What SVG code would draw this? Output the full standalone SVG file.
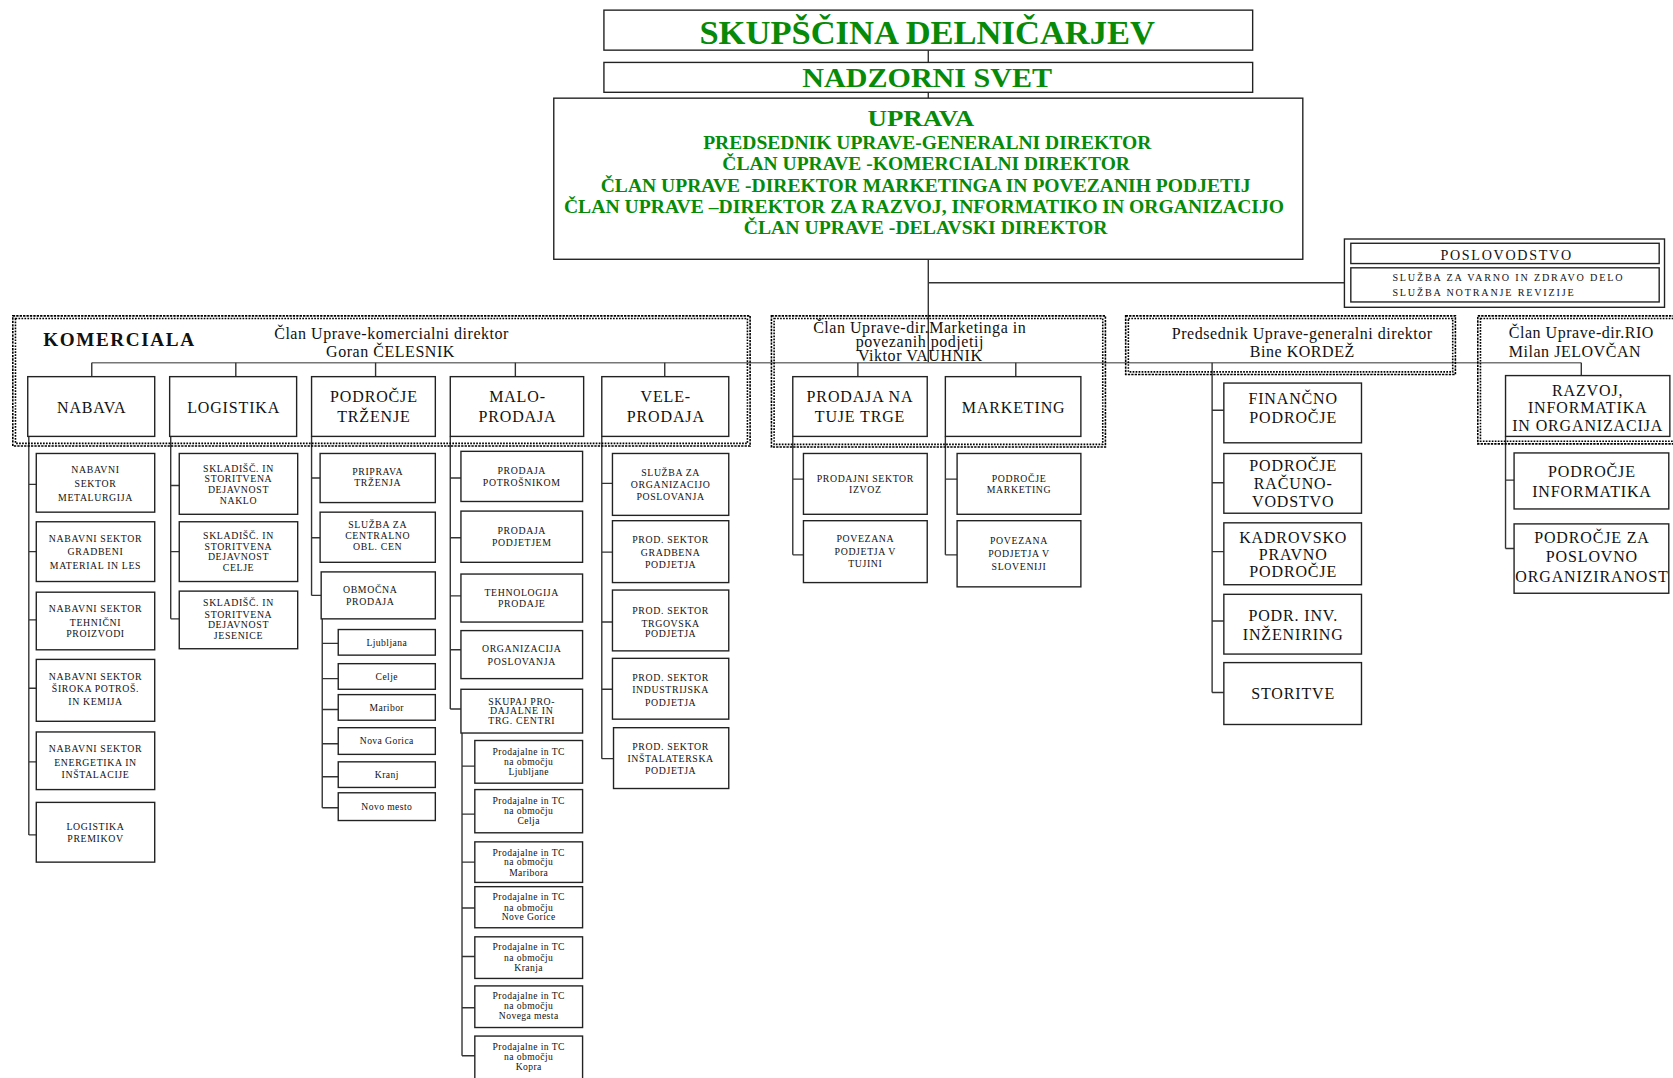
<svg xmlns="http://www.w3.org/2000/svg" width="1673" height="1078" viewBox="0 0 1673 1078">
<style>
.bx{fill:#fff;stroke:#222;stroke-width:1.3}
.bo{fill:none;stroke:#222;stroke-width:1.3}
.t{font-family:"Liberation Serif","Times New Roman",serif;text-anchor:middle;fill:#111}
.l{text-anchor:start}
.s9{font-size:9.2px;letter-spacing:0.6px}
.s8{font-size:9px;letter-spacing:0.4px}
.m{font-size:15px;letter-spacing:0.8px}
.h{font-size:15px;letter-spacing:0.5px}
.g{fill:#078a07;font-weight:bold}
.cn{fill:none;stroke:#333;stroke-width:1.3}
.cm{stroke:#777}
.d1{fill:none;stroke:#000;stroke-width:1.5;stroke-dasharray:2.2 1}
.d2{fill:none;stroke:#000;stroke-width:1.5;stroke-dasharray:1.6 1.2}
</style>
<rect width="1673" height="1078" fill="#fff"/>
<g transform="scale(1.067)">
<g id="connectors" class="cn">
<path d="M870,47V58M870,86.5V92M870,243V340M870,265H1260"/>
<path class="cm" d="M86,340H1482"/>
<path d="M86,340V353M221,340V353M352,340V353M483,340V353M623,340V353M804,340V353M952,340V353M1482,340V352"/>
<path d="M1136,340V649M1136,384.5H1147M1136,452.5H1147M1136,517H1147M1136,582H1147M1136,649H1147"/>
<path d="M27,409V782.5M27,454H34M27,517H34M27,581H34M27,645H34M27,714H34M27,782.5H34"/>
<path d="M160,409V580M160,455H168M160,517H168M160,580H168"/>
<path d="M292,409V558M292,448H300M292,504H300M292,558H301"/>
<path d="M302,580V757M302,603H317M302,636H317M302,665H317M302,697H317M302,728H317M302,757H317"/>
<path d="M422,409V664.5M422,448H432M422,504H432M422,558.5H432M422,609H432M422,664.5H432"/>
<path d="M433,687V989.5M433,718H445M433,763H445M433,808H445M433,851H445M433,896.5H445M433,944.5H445M433,989.5H445"/>
<path d="M564,409V711M564,453H574M564,517.5H574M564,583H574M564,646H574M564,711H575"/>
<path d="M743,409V520M743,449H753M743,520H753"/>
<path d="M886,409V520M886,449H897M886,520H897"/>
<path d="M1411,409V514M1411,450H1419M1411,514H1419"/>
</g>

<g id="skupscina">
<rect class="bx" x="566" y="9.5" width="608" height="37.5"/>
<text class="t g" x="869" y="41.5" font-size="31" textLength="427" lengthAdjust="spacingAndGlyphs">SKUPŠČINA DELNIČARJEV</text>
</g>
<g id="nadzorni-svet">
<rect class="bx" x="566" y="58.5" width="608" height="28"/>
<text class="t g" x="869" y="82" font-size="26" textLength="234" lengthAdjust="spacingAndGlyphs">NADZORNI SVET</text>
</g>
<g id="uprava">
<rect class="bx" x="519" y="92" width="702" height="151"/>
<text class="t g" x="863" y="118" font-size="22.5" textLength="100" lengthAdjust="spacingAndGlyphs">UPRAVA</text>
<text class="t g" x="869" y="139.6" font-size="17" textLength="420" lengthAdjust="spacingAndGlyphs">PREDSEDNIK UPRAVE-GENERALNI DIREKTOR</text>
<text class="t g" x="868" y="159" font-size="17" textLength="382" lengthAdjust="spacingAndGlyphs">ČLAN UPRAVE -KOMERCIALNI DIREKTOR</text>
<text class="t g" x="867.5" y="179.6" font-size="17" textLength="609" lengthAdjust="spacingAndGlyphs">ČLAN UPRAVE -DIREKTOR MARKETINGA IN POVEZANIH PODJETIJ</text>
<text class="t g" x="866" y="199.5" font-size="17" textLength="675" lengthAdjust="spacingAndGlyphs">ČLAN UPRAVE –DIREKTOR ZA RAZVOJ, INFORMATIKO IN ORGANIZACIJO</text>
<text class="t g" x="867.5" y="219" font-size="17" textLength="341" lengthAdjust="spacingAndGlyphs">ČLAN UPRAVE -DELAVSKI DIREKTOR</text>
</g>
<g id="poslovodstvo">
<rect class="bx" x="1260" y="224" width="300" height="64"/>
<rect class="bo" x="1266" y="228" width="289" height="19"/>
<rect class="bo" x="1266" y="251" width="289" height="32"/>
<text class="t" x="1412" y="243.5" font-size="13.2" letter-spacing="1.6">POSLOVODSTVO</text>
<text class="t l" x="1305" y="263.5" font-size="9.5" letter-spacing="1.7">SLUŽBA ZA VARNO IN ZDRAVO DELO</text>
<text class="t l" x="1305" y="277" font-size="9.5" letter-spacing="1.7">SLUŽBA NOTRANJE REVIZIJE</text>
</g>

<g id="grp-komerciala">
<rect class="d1" x="12" y="296" width="691" height="122"/>
<rect class="d2" x="14.5" y="298.5" width="686" height="117"/>
<text class="t l" x="40.5" y="324" font-size="18" font-weight="bold" letter-spacing="1.5">KOMERCIALA</text>
<text class="t h" x="367" y="317.5">Član Uprave-komercialni direktor</text>
<text class="t h" x="366" y="335">Goran ČELESNIK</text>
</g>
<g id="grp-marketing">
<rect class="d1" x="723" y="296" width="313" height="123"/>
<rect class="d2" x="725.5" y="298.5" width="308" height="118"/>
<text class="t h" x="862" y="312.5">Član Uprave-dir.Marketinga in</text>
<text class="t h" x="862" y="325">povezanih podjetij</text>
<text class="t h" x="862.5" y="338">Viktor VAUHNIK</text>
</g>
<g id="grp-predsednik">
<rect class="d1" x="1055" y="296" width="309" height="55"/>
<rect class="d2" x="1057.5" y="298.5" width="304" height="50"/>
<text class="t h" x="1220.5" y="317.5">Predsednik Uprave-generalni direktor</text>
<text class="t h" x="1220.5" y="335">Bine KORDEŽ</text>
</g>
<g id="grp-rio">
<rect class="d1" x="1385" y="296" width="200" height="120"/>
<rect class="d2" x="1387.5" y="298.5" width="195" height="115"/>
<text class="t h l" x="1414" y="317">Član Uprave-dir.RIO</text>
<text class="t h l" x="1414" y="335">Milan JELOVČAN</text>
</g>

<g id="nabava"><rect class="bx" x="26" y="353" width="119" height="56"/><text class="t m" x="86" y="387">NABAVA</text></g>
<g id="logistika"><rect class="bx" x="159" y="353" width="119" height="56"/><text class="t m" x="219" y="387">LOGISTIKA</text></g>
<g id="podrocje-trzenje"><rect class="bx" x="292" y="353" width="116" height="56"/><text class="t m" x="350.5" y="377">PODROČJE</text><text class="t m" x="350.5" y="395.5">TRŽENJE</text></g>
<g id="maloprodaja"><rect class="bx" x="422" y="353" width="125" height="56"/><text class="t m" x="485" y="377">MALO-</text><text class="t m" x="485" y="395.5">PRODAJA</text></g>
<g id="veleprodaja"><rect class="bx" x="564" y="353" width="119" height="56"/><text class="t m" x="624" y="377">VELE-</text><text class="t m" x="624" y="395.5">PRODAJA</text></g>
<g id="prodaja-tuje"><rect class="bx" x="743" y="353" width="126" height="56"/><text class="t m" x="806" y="377">PRODAJA NA</text><text class="t m" x="806" y="395.5">TUJE TRGE</text></g>
<g id="marketing"><rect class="bx" x="886" y="353" width="127" height="56"/><text class="t m" x="950" y="387">MARKETING</text></g>
<g id="razvoj"><rect class="bx" x="1411" y="352" width="154" height="57"/><text class="t m" x="1488" y="371.5" letter-spacing="1">RAZVOJ,</text><text class="t m" x="1488" y="387" letter-spacing="1">INFORMATIKA</text><text class="t m" x="1488" y="404" letter-spacing="1">IN ORGANIZACIJA</text></g>

<g id="financno"><rect class="bx" x="1147" y="359" width="129" height="56"/><text class="t m" x="1212" y="379" letter-spacing="0.5">FINANČNO</text><text class="t m" x="1212" y="396" letter-spacing="0.5">PODROČJE</text></g>
<g id="racunovodstvo"><rect class="bx" x="1147" y="425" width="129" height="56"/><text class="t m" x="1212" y="441" letter-spacing="0.5">PODROČJE</text><text class="t m" x="1212" y="458" letter-spacing="0.5">RAČUNO-</text><text class="t m" x="1212" y="475" letter-spacing="0.5">VODSTVO</text></g>
<g id="kadrovsko"><rect class="bx" x="1147" y="490" width="129" height="58"/><text class="t m" x="1212" y="509" letter-spacing="0.5">KADROVSKO</text><text class="t m" x="1212" y="525" letter-spacing="0.5">PRAVNO</text><text class="t m" x="1212" y="541" letter-spacing="0.5">PODROČJE</text></g>
<g id="inzeniring"><rect class="bx" x="1147" y="557" width="129" height="56"/><text class="t m" x="1212" y="582" letter-spacing="0.5">PODR. INV.</text><text class="t m" x="1212" y="600" letter-spacing="0.5">INŽENIRING</text></g>
<g id="storitve"><rect class="bx" x="1147" y="621" width="129" height="58"/><text class="t m" x="1212" y="655" letter-spacing="0.5">STORITVE</text></g>

<g id="podrocje-informatika"><rect class="bx" x="1419" y="424.5" width="145" height="52.5"/><text class="t m" x="1492" y="447" letter-spacing="0.8">PODROČJE</text><text class="t m" x="1492" y="466" letter-spacing="0.8">INFORMATIKA</text></g>
<g id="podrocje-organiziranost"><rect class="bx" x="1419" y="491" width="145" height="65"/><text class="t m" x="1492" y="509" letter-spacing="0.6">PODROČJE ZA</text><text class="t m" x="1492" y="527" letter-spacing="0.6">POSLOVNO</text><text class="t m" x="1492" y="545" letter-spacing="0.6">ORGANIZIRANOST</text></g>

<g id="nab-metalurgija"><rect class="bx" x="34" y="425" width="111" height="55"/><text class="t s9" x="89.5" y="443.3">NABAVNI</text><text class="t s9" x="89.5" y="456.3">SEKTOR</text><text class="t s9" x="89.5" y="469.3">METALURGIJA</text></g>
<g id="nab-gradbeni"><rect class="bx" x="34" y="489" width="111" height="56"/><text class="t s9" x="89.5" y="508.3">NABAVNI  SEKTOR</text><text class="t s9" x="89.5" y="520.3">GRADBENI</text><text class="t s9" x="89.5" y="533.3">MATERIAL  IN LES</text></g>
<g id="nab-tehnicni"><rect class="bx" x="34" y="555" width="111" height="54"/><text class="t s9" x="89.5" y="573.3">NABAVNI  SEKTOR</text><text class="t s9" x="89.5" y="586.3">TEHNIČNI</text><text class="t s9" x="89.5" y="597.3">PROIZVODI</text></g>
<g id="nab-siroka"><rect class="bx" x="34" y="618" width="111" height="58"/><text class="t s9" x="89.5" y="637">NABAVNI  SEKTOR</text><text class="t s9" x="89.5" y="648.5">ŠIROKA  POTROŠ.</text><text class="t s9" x="89.5" y="661">IN KEMIJA</text></g>
<g id="nab-energetika"><rect class="bx" x="34" y="686" width="111" height="54"/><text class="t s9" x="89.5" y="704.5">NABAVNI  SEKTOR</text><text class="t s9" x="89.5" y="717.5">ENERGETIKA  IN</text><text class="t s9" x="89.5" y="729.5">INŠTALACIJE</text></g>
<g id="nab-logistika-premikov"><rect class="bx" x="34" y="752" width="111" height="56"/><text class="t s9" x="89.5" y="777.5">LOGISTIKA</text><text class="t s9" x="89.5" y="789.5">PREMIKOV</text></g>

<g id="log-naklo"><rect class="bx" x="168" y="425" width="111" height="57"/><text class="t s9" x="223.5" y="442">SKLADIŠČ. IN</text><text class="t s9" x="223.5" y="452">STORITVENA</text><text class="t s9" x="223.5" y="462">DEJAVNOST</text><text class="t s9" x="223.5" y="472">NAKLO</text></g>
<g id="log-celje"><rect class="bx" x="168" y="489" width="111" height="56"/><text class="t s9" x="223.5" y="505.3">SKLADIŠČ. IN</text><text class="t s9" x="223.5" y="515.3">STORITVENA</text><text class="t s9" x="223.5" y="525.3">DEJAVNOST</text><text class="t s9" x="223.5" y="535.3">CELJE</text></g>
<g id="log-jesenice"><rect class="bx" x="168" y="554" width="111" height="54"/><text class="t s9" x="223.5" y="568.3">SKLADIŠČ. IN</text><text class="t s9" x="223.5" y="579">STORITVENA</text><text class="t s9" x="223.5" y="589">DEJAVNOST</text><text class="t s9" x="223.5" y="599">JESENICE</text></g>

<g id="pt-priprava"><rect class="bx" x="300" y="425" width="108" height="46"/><text class="t s9" x="354" y="444.8">PRIPRAVA</text><text class="t s9" x="354" y="455.3">TRŽENJA</text></g>
<g id="pt-sluzba-cen"><rect class="bx" x="300" y="480" width="108" height="47"/><text class="t s9" x="354" y="495.3">SLUŽBA ZA</text><text class="t s9" x="354" y="505.3">CENTRALNO</text><text class="t s9" x="354" y="515.3">OBL. CEN</text></g>
<g id="pt-obmocna"><rect class="bx" x="301" y="536" width="107" height="44"/><text class="t s9" x="347" y="555.3">OBMOČNA</text><text class="t s9" x="347" y="567.3">PRODAJA</text></g>
<g id="ob-ljubljana"><rect class="bx" x="317" y="590" width="91" height="24"/><text class="t s8" x="362.5" y="605">Ljubljana</text></g>
<g id="ob-celje"><rect class="bx" x="317" y="622" width="91" height="24"/><text class="t s8" x="362.5" y="637">Celje</text></g>
<g id="ob-maribor"><rect class="bx" x="317" y="651" width="91" height="24"/><text class="t s8" x="362.5" y="666">Maribor</text></g>
<g id="ob-nova-gorica"><rect class="bx" x="317" y="682" width="91" height="25"/><text class="t s8" x="362.5" y="697.5">Nova Gorica</text></g>
<g id="ob-kranj"><rect class="bx" x="317" y="714" width="91" height="24"/><text class="t s8" x="362.5" y="729">Kranj</text></g>
<g id="ob-novo-mesto"><rect class="bx" x="317" y="743" width="91" height="26"/><text class="t s8" x="362.5" y="759">Novo mesto</text></g>

<g id="mp-potrosnikom"><rect class="bx" x="432" y="423" width="114" height="47"/><text class="t s9" x="489" y="444.3">PRODAJA</text><text class="t s9" x="489" y="455.3">POTROŠNIKOM</text></g>
<g id="mp-podjetjem"><rect class="bx" x="432" y="479" width="114" height="48"/><text class="t s9" x="489" y="500.8">PRODAJA</text><text class="t s9" x="489" y="511.3">PODJETJEM</text></g>
<g id="mp-tehnologija"><rect class="bx" x="432" y="538" width="114" height="45"/><text class="t s9" x="489" y="558.8">TEHNOLOGIJA</text><text class="t s9" x="489" y="569.3">PRODAJE</text></g>
<g id="mp-organizacija"><rect class="bx" x="432" y="591" width="114" height="45"/><text class="t s9" x="489" y="611.3">ORGANIZACIJA</text><text class="t s9" x="489" y="622.8">POSLOVANJA</text></g>
<g id="mp-skupaj"><rect class="bx" x="432" y="646" width="114" height="41"/><text class="t s9" x="489" y="661">SKUPAJ PRO-</text><text class="t s9" x="489" y="669.5">DAJALNE IN</text><text class="t s9" x="489" y="679">TRG. CENTRI</text></g>

<g id="tc-ljubljane"><rect class="bx" x="445" y="694" width="101" height="40"/><text class="t s8" x="495.5" y="708">Prodajalne in TC</text><text class="t s8" x="495.5" y="717">na območju</text><text class="t s8" x="495.5" y="726.5">Ljubljane</text></g>
<g id="tc-celja"><rect class="bx" x="445" y="740" width="101" height="40.5"/><text class="t s8" x="495.5" y="753.5">Prodajalne in TC</text><text class="t s8" x="495.5" y="763">na območju</text><text class="t s8" x="495.5" y="772">Celja</text></g>
<g id="tc-maribora"><rect class="bx" x="445" y="789" width="101" height="38"/><text class="t s8" x="495.5" y="802">Prodajalne in TC</text><text class="t s8" x="495.5" y="811">na območju</text><text class="t s8" x="495.5" y="821">Maribora</text></g>
<g id="tc-nove-gorice"><rect class="bx" x="445" y="831" width="101" height="38.5"/><text class="t s8" x="495.5" y="843.5">Prodajalne in TC</text><text class="t s8" x="495.5" y="854">na območju</text><text class="t s8" x="495.5" y="862">Nove Gorice</text></g>
<g id="tc-kranja"><rect class="bx" x="445" y="878" width="101" height="39"/><text class="t s8" x="495.5" y="890.5">Prodajalne in TC</text><text class="t s8" x="495.5" y="900.5">na območju</text><text class="t s8" x="495.5" y="910">Kranja</text></g>
<g id="tc-novega-mesta"><rect class="bx" x="445" y="924" width="101" height="39"/><text class="t s8" x="495.5" y="936">Prodajalne in TC</text><text class="t s8" x="495.5" y="945.5">na območju</text><text class="t s8" x="495.5" y="955">Novega mesta</text></g>
<g id="tc-kopra"><rect class="bx" x="445" y="971" width="101" height="40"/><text class="t s8" x="495.5" y="984">Prodajalne in TC</text><text class="t s8" x="495.5" y="993">na območju</text><text class="t s8" x="495.5" y="1003">Kopra</text></g>

<g id="vp-sluzba"><rect class="bx" x="574" y="425" width="109" height="58"/><text class="t s9" x="628.5" y="446.3">SLUŽBA ZA</text><text class="t s9" x="628.5" y="457.3">ORGANIZACIJO</text><text class="t s9" x="628.5" y="468.8">POSLOVANJA</text></g>
<g id="vp-gradbena"><rect class="bx" x="574" y="488" width="109" height="58"/><text class="t s9" x="628.5" y="509.3">PROD. SEKTOR</text><text class="t s9" x="628.5" y="521.3">GRADBENA</text><text class="t s9" x="628.5" y="532.8">PODJETJA</text></g>
<g id="vp-trgovska"><rect class="bx" x="574" y="553" width="109" height="57"/><text class="t s9" x="628.5" y="575.8">PROD. SEKTOR</text><text class="t s9" x="628.5" y="587.3">TRGOVSKA</text><text class="t s9" x="628.5" y="597.3">PODJETJA</text></g>
<g id="vp-industrijska"><rect class="bx" x="574" y="617" width="109" height="57"/><text class="t s9" x="628.5" y="637.8">PROD. SEKTOR</text><text class="t s9" x="628.5" y="649.3">INDUSTRIJSKA</text><text class="t s9" x="628.5" y="661.3">PODJETJA</text></g>
<g id="vp-instalaterska"><rect class="bx" x="575" y="682" width="108" height="57"/><text class="t s9" x="628.5" y="703.3">PROD. SEKTOR</text><text class="t s9" x="628.5" y="714.3">INŠTALATERSKA</text><text class="t s9" x="628.5" y="725.8">PODJETJA</text></g>

<g id="tt-izvoz"><rect class="bx" x="753" y="425" width="116" height="57"/><text class="t s9" x="811" y="451.3" letter-spacing="0.3">PRODAJNI SEKTOR</text><text class="t s9" x="811" y="461.8">IZVOZ</text></g>
<g id="tt-povezana-tujini"><rect class="bx" x="753" y="488" width="116" height="58"/><text class="t s9" x="811" y="508.3">POVEZANA</text><text class="t s9" x="811" y="520.3">PODJETJA V</text><text class="t s9" x="811" y="531.3">TUJINI</text></g>
<g id="mk-podrocje"><rect class="bx" x="897" y="425" width="116" height="57"/><text class="t s9" x="955" y="451.3">PODROČJE</text><text class="t s9" x="955" y="461.8">MARKETING</text></g>
<g id="mk-povezana-slo"><rect class="bx" x="897" y="488" width="116" height="62"/><text class="t s9" x="955" y="510.3">POVEZANA</text><text class="t s9" x="955" y="521.8">PODJETJA V</text><text class="t s9" x="955" y="533.8">SLOVENIJI</text></g>
</g>
</svg>
